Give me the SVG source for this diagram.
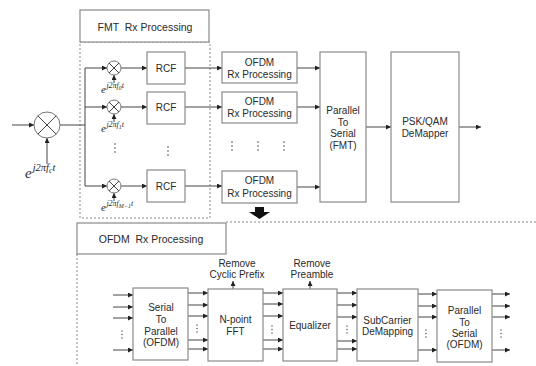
<svg xmlns="http://www.w3.org/2000/svg" width="536" height="366" viewBox="0 0 536 366">
<defs>
<marker id="ah" markerUnits="userSpaceOnUse" markerWidth="6" markerHeight="6" refX="5" refY="2.5" orient="auto"><path d="M0,0 L5,2.5 L0,5 z" fill="#222"/></marker>
<style>
.box{fill:#fff;stroke:#8a8a8a;stroke-width:1.2}
.dash{fill:none;stroke:#8a8a8a;stroke-width:1;stroke-dasharray:2,2}
.ln{fill:none;stroke:#444;stroke-width:1}
.ar{fill:none;stroke:#444;stroke-width:1;marker-end:url(#ah)}
.t{font-family:"Liberation Sans",Arial,sans-serif;font-size:10px;fill:#2a2a2a;text-anchor:middle}
.tl{font-family:"Liberation Sans",Arial,sans-serif;font-size:10.5px;fill:#2a2a2a;text-anchor:middle}
.m{font-family:"Liberation Serif","Times New Roman",serif;font-style:italic;fill:#2a2a2a}
.dot{fill:#444}
.mix{fill:#fff;stroke:#777;stroke-width:1}
</style>
</defs>
<rect width="536" height="366" fill="#fff"/>

<g id="fmt-region">
<rect class="dash" x="80" y="42" width="130" height="176"/>
<rect class="box" x="80" y="10" width="129" height="32"/>
<text class="tl" x="145" y="31" xml:space="preserve">FMT  Rx Processing</text>
</g>

<g id="ofdm-region">
<path class="dash" d="M226,222 H536 M77,254 V366"/>
<rect class="box" x="77" y="223" width="149" height="31"/>
<text class="tl" x="151" y="243" xml:space="preserve">OFDM  Rx Processing</text>
</g>

<g id="connectors">
<line class="ar" x1="12" y1="125" x2="34" y2="125"/>
<line class="ar" x1="47" y1="164" x2="47" y2="138"/>
<path class="ln" d="M60,125 H85 M85,68 V186"/>
<line class="ar" x1="85" y1="68" x2="107" y2="68"/>
<line class="ar" x1="85" y1="107" x2="107" y2="107"/>
<line class="ar" x1="85" y1="186" x2="107" y2="186"/>
<line class="ar" x1="114" y1="83" x2="114" y2="75"/>
<line class="ar" x1="114" y1="122" x2="114" y2="114"/>
<line class="ar" x1="114" y1="201" x2="114" y2="193"/>
<line class="ar" x1="121" y1="68" x2="147" y2="68"/>
<line class="ar" x1="121" y1="107" x2="147" y2="107"/>
<line class="ar" x1="121" y1="186" x2="147" y2="186"/>
<line class="ar" x1="185" y1="68" x2="222" y2="68"/>
<line class="ar" x1="185" y1="107" x2="222" y2="107"/>
<line class="ar" x1="185" y1="186" x2="222" y2="186"/>
<line class="ar" x1="297" y1="68" x2="320" y2="68"/>
<line class="ar" x1="297" y1="107" x2="320" y2="107"/>
<line class="ar" x1="297" y1="187" x2="320" y2="187"/>
<line class="ar" x1="366" y1="127" x2="391" y2="127"/>
<line class="ar" x1="459" y1="127" x2="481" y2="127"/>

<polygon points="255,207 264,207 264,212 270,212 259.5,219 249,212 255,212" fill="#111"/>

<line class="ar" x1="113" y1="295" x2="133" y2="295"/>
<line class="ar" x1="113" y1="307" x2="133" y2="307"/>
<line class="ar" x1="113" y1="318" x2="133" y2="318"/>
<line class="ar" x1="113" y1="350" x2="133" y2="350"/>

<line class="ar" x1="188" y1="293" x2="208" y2="293"/>
<line class="ar" x1="188" y1="305" x2="208" y2="305"/>
<line class="ar" x1="188" y1="316" x2="208" y2="316"/>
<line class="ar" x1="188" y1="340" x2="208" y2="340"/>
<line class="ar" x1="188" y1="349" x2="208" y2="349"/>

<line class="ar" x1="263" y1="293" x2="283" y2="293"/>
<line class="ar" x1="263" y1="304" x2="283" y2="304"/>
<line class="ar" x1="263" y1="316" x2="283" y2="316"/>
<line class="ar" x1="263" y1="340" x2="283" y2="340"/>
<line class="ar" x1="263" y1="349" x2="283" y2="349"/>

<line class="ar" x1="337" y1="293" x2="357" y2="293"/>
<line class="ar" x1="337" y1="305" x2="357" y2="305"/>
<line class="ar" x1="337" y1="317" x2="357" y2="317"/>
<line class="ar" x1="337" y1="341" x2="357" y2="341"/>
<line class="ar" x1="337" y1="349" x2="357" y2="349"/>

<line class="ar" x1="418" y1="294" x2="437" y2="294"/>
<line class="ar" x1="418" y1="306" x2="437" y2="306"/>
<line class="ar" x1="418" y1="317" x2="437" y2="317"/>
<line class="ar" x1="418" y1="350" x2="437" y2="350"/>

<line class="ar" x1="492" y1="294" x2="510" y2="294"/>
<line class="ar" x1="492" y1="306" x2="510" y2="306"/>
<line class="ar" x1="492" y1="317" x2="510" y2="317"/>
<line class="ar" x1="492" y1="350" x2="510" y2="350"/>

<line class="ar" x1="233" y1="289" x2="233" y2="281"/>
<line class="ar" x1="310" y1="289" x2="310" y2="281"/>
</g>

<g id="dots">
<circle class="dot" cx="115" cy="144" r="0.8"/><circle class="dot" cx="115" cy="148" r="0.8"/><circle class="dot" cx="115" cy="152" r="0.8"/>
<circle class="dot" cx="168" cy="147" r="0.8"/><circle class="dot" cx="168" cy="151" r="0.8"/><circle class="dot" cx="168" cy="155" r="0.8"/>
<circle class="dot" cx="232" cy="142" r="0.8"/><circle class="dot" cx="232" cy="146" r="0.8"/><circle class="dot" cx="232" cy="150" r="0.8"/>
<circle class="dot" cx="258" cy="142" r="0.8"/><circle class="dot" cx="258" cy="146" r="0.8"/><circle class="dot" cx="258" cy="150" r="0.8"/>
<circle class="dot" cx="284" cy="142" r="0.8"/><circle class="dot" cx="284" cy="146" r="0.8"/><circle class="dot" cx="284" cy="150" r="0.8"/>
<circle class="dot" cx="122" cy="331" r="0.7"/><circle class="dot" cx="122" cy="334.5" r="0.7"/><circle class="dot" cx="122" cy="338" r="0.7"/>
<circle class="dot" cx="197" cy="325" r="0.7"/><circle class="dot" cx="197" cy="328.5" r="0.7"/><circle class="dot" cx="197" cy="332" r="0.7"/>
<circle class="dot" cx="272" cy="326" r="0.7"/><circle class="dot" cx="272" cy="329.5" r="0.7"/><circle class="dot" cx="272" cy="333" r="0.7"/>
<circle class="dot" cx="347" cy="326" r="0.7"/><circle class="dot" cx="347" cy="329.5" r="0.7"/><circle class="dot" cx="347" cy="333" r="0.7"/>
<circle class="dot" cx="426" cy="330" r="0.7"/><circle class="dot" cx="426" cy="333.5" r="0.7"/><circle class="dot" cx="426" cy="337" r="0.7"/>
<circle class="dot" cx="501" cy="330" r="0.7"/><circle class="dot" cx="501" cy="333.5" r="0.7"/><circle class="dot" cx="501" cy="337" r="0.7"/>
</g>

<g id="mixer-main">
<circle class="mix" cx="47" cy="125" r="13"/>
<path class="ln" d="M37.8,115.8 L56.2,134.2 M56.2,115.8 L37.8,134.2" stroke="#777"/>
<text class="m" x="25" y="178"><tspan font-size="15">e</tspan><tspan font-size="10.5" dy="-7" dx="1">j2πf</tspan><tspan font-size="7.5" dy="2">c</tspan><tspan font-size="10.5" dy="-2">t</tspan></text>
</g>

<g id="mixer-0">
<circle class="mix" cx="114" cy="68" r="7"/>
<path class="ln" d="M109,63 L119,73 M119,63 L109,73" stroke="#777"/>
<text class="m" x="101" y="93"><tspan font-size="11">e</tspan><tspan font-size="8" dy="-5" dx="0.5">j2πf</tspan><tspan font-size="6" dy="1.5">0</tspan><tspan font-size="8" dy="-1.5">t</tspan></text>
</g>
<g id="mixer-1">
<circle class="mix" cx="114" cy="107" r="7"/>
<path class="ln" d="M109,102 L119,112 M119,102 L109,112" stroke="#777"/>
<text class="m" x="101" y="132"><tspan font-size="11">e</tspan><tspan font-size="8" dy="-5" dx="0.5">j2πf</tspan><tspan font-size="6" dy="1.5">1</tspan><tspan font-size="8" dy="-1.5">t</tspan></text>
</g>
<g id="mixer-2">
<circle class="mix" cx="114" cy="186" r="7"/>
<path class="ln" d="M109,181 L119,191 M119,181 L109,191" stroke="#777"/>
<text class="m" x="101" y="211"><tspan font-size="11">e</tspan><tspan font-size="8" dy="-5" dx="0.5">j2πf</tspan><tspan font-size="6" dy="1.5">M−1</tspan><tspan font-size="8" dy="-1.5">t</tspan></text>
</g>

<g id="rcf-0"><rect class="box" x="147" y="52" width="38" height="32"/><text class="t" x="166" y="72">RCF</text></g>
<g id="rcf-1"><rect class="box" x="147" y="92" width="38" height="32"/><text class="t" x="166" y="111">RCF</text></g>
<g id="rcf-2"><rect class="box" x="147" y="170" width="38" height="32"/><text class="t" x="166" y="190">RCF</text></g>

<g id="ofdm-0"><rect class="box" x="222" y="52" width="75" height="31"/><text class="t" x="259.5" y="66">OFDM</text><text class="t" x="259.5" y="78">Rx Processing</text></g>
<g id="ofdm-1"><rect class="box" x="222" y="92" width="75" height="31"/><text class="t" x="259.5" y="105">OFDM</text><text class="t" x="259.5" y="117">Rx Processing</text></g>
<g id="ofdm-2"><rect class="box" x="222" y="171" width="75" height="32"/><text class="t" x="259.5" y="184">OFDM</text><text class="t" x="259.5" y="197">Rx Processing</text></g>

<g id="p2s-fmt"><rect class="box" x="320" y="52" width="46" height="150"/>
<text class="t" x="343" y="114">Parallel</text><text class="t" x="343" y="126">To</text><text class="t" x="343" y="137">Serial</text><text class="t" x="343" y="149">(FMT)</text></g>

<g id="demapper"><rect class="box" x="391" y="52" width="68" height="150"/>
<text class="t" x="425" y="125">PSK/QAM</text><text class="t" x="425" y="137">DeMapper</text></g>

<g id="s2p"><rect class="box" x="133" y="288" width="55" height="72"/>
<text class="t" x="161" y="311">Serial</text><text class="t" x="161" y="323">To</text><text class="t" x="161" y="335">Parallel</text><text class="t" x="161" y="346">(OFDM)</text></g>

<g id="fft"><rect class="box" x="208" y="289" width="55" height="72"/>
<text class="t" x="235.5" y="323">N-point</text><text class="t" x="235.5" y="335">FFT</text></g>
<g id="remove-cp"><text class="t" x="237" y="267">Remove</text><text class="t" x="237" y="278">Cyclic Prefix</text></g>

<g id="equalizer"><rect class="box" x="283" y="289" width="54" height="72"/>
<text class="t" x="310" y="329">Equalizer</text></g>
<g id="remove-preamble"><text class="t" x="312" y="267">Remove</text><text class="t" x="312" y="278">Preamble</text></g>

<g id="subcarrier"><rect class="box" x="357" y="289" width="61" height="72"/>
<text class="t" x="387.5" y="324">SubCarrier</text><text class="t" x="387.5" y="335">DeMapping</text></g>

<g id="p2s-ofdm"><rect class="box" x="437" y="290" width="55" height="72"/>
<text class="t" x="464.5" y="314">Parallel</text><text class="t" x="464.5" y="326">To</text><text class="t" x="464.5" y="337">Serial</text><text class="t" x="464.5" y="348">(OFDM)</text></g>
</svg>
